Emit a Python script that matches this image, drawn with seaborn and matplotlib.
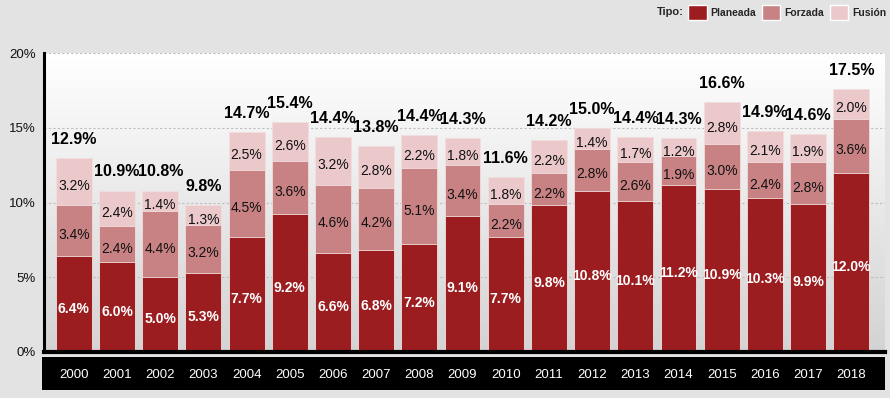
import numpy as np
import matplotlib
matplotlib.use('Agg')
import matplotlib.pyplot as plt
from matplotlib.patches import Patch, Rectangle
import seaborn as sns

# datos (porcentaje por tipo)
years = [str(y) for y in range(2000, 2019)]
planeada = [6.4, 6.0, 5.0, 5.3, 7.7, 9.2, 6.6, 6.8, 7.2, 9.1, 7.7, 9.8, 10.8, 10.1, 11.2, 10.9, 10.3, 9.9, 12.0]
forzada = [3.4, 2.4, 4.4, 3.2, 4.5, 3.6, 4.6, 4.2, 5.1, 3.4, 2.2, 2.2, 2.8, 2.6, 1.9, 3.0, 2.4, 2.8, 3.6]
fusion = [3.2, 2.4, 1.4, 1.3, 2.5, 2.6, 3.2, 2.8, 2.2, 1.8, 1.8, 2.2, 1.4, 1.7, 1.2, 2.8, 2.1, 1.9, 2.0]
totales = [12.9, 10.9, 10.8, 9.8, 14.7, 15.4, 14.4, 13.8, 14.4, 14.3, 11.6, 14.2, 15.0, 14.4, 14.3, 16.6, 14.9, 14.6, 17.5]
yticks = [0, 5, 10, 15, 20]

C_PLA = '#9b1d20'
C_FOR = '#c98284'
C_FUS = '#ebc9cb'
BG = '#e3e3e3'

sns.set_style('white')
plt.rcParams['font.family'] = ['Liberation Sans', 'DejaVu Sans']

fig = plt.figure(figsize=(8.9, 3.98), dpi=100, facecolor=BG)
ax = fig.add_axes([44/890, 46/398, 841/890, 299/398])

# fondo con degradado
grad = np.linspace(1, 0, 256).reshape(-1, 1)
ax.imshow(grad, cmap=matplotlib.colors.LinearSegmentedColormap.from_list('g', ['#d3d3d3', '#ffffff']),
          extent=[-0.69, 18.78, 0, 20], aspect='auto', zorder=0, origin='upper')

cum1 = np.array(planeada)
cum2 = cum1 + np.array(forzada)
cum3 = cum2 + np.array(fusion)

kw = dict(width=0.83, saturation=1, edgecolor='#f2dede', linewidth=0.6, ax=ax, zorder=2)
sns.barplot(x=years, y=cum3, color=C_FUS, **kw)
sns.barplot(x=years, y=cum2, color=C_FOR, **kw)
sns.barplot(x=years, y=cum1, color=C_PLA, **kw)

for i in range(len(years)):
    ax.text(i, planeada[i] / 2 - 0.3, f'{planeada[i]:.1f}%', ha='center', va='center',
            color='white', fontsize=10, fontweight='bold', zorder=3)
    ax.text(i, cum1[i] + forzada[i] / 2 - 0.3, f'{forzada[i]:.1f}%', ha='center', va='center',
            color='#111111', fontsize=10, zorder=3)
    ax.text(i, cum2[i] + fusion[i] / 2 - 0.3, f'{fusion[i]:.1f}%', ha='center', va='center',
            color='#111111', fontsize=10, zorder=3)
    ax.annotate(f'{totales[i]:.1f}%', (i, cum3[i]), xytext=(0, 8), textcoords='offset points',
                ha='center', va='bottom', fontsize=11.5, fontweight='bold', color='black', zorder=3)

ax.set_xlim(-0.69, 18.78)
ax.set_ylim(0, 20)
ax.set_yticks(yticks)
ax.set_yticklabels([f'{t}%' for t in yticks])
ax.set_axisbelow(True)
ax.yaxis.grid(True, linestyle=(0, (2, 2)), color='#bdbdbd', linewidth=0.8, zorder=1)
ax.xaxis.grid(False)
ax.set_xlabel('')
ax.set_ylabel('')

for s in ['top', 'right']:
    ax.spines[s].set_visible(False)
ax.spines['left'].set_color('black')
ax.spines['left'].set_linewidth(2.2)
ax.spines['bottom'].set_color('black')
ax.spines['bottom'].set_linewidth(3)

ax.tick_params(axis='y', length=0, pad=6, labelsize=9.5, labelcolor='#111111')
ax.tick_params(axis='x', length=0, pad=12, labelsize=9.5, labelcolor='white')

# banda negra de los años
fig.patches.append(Rectangle((42/890, 8/398), 843/890, 33/398, transform=fig.transFigure,
                             facecolor='black', edgecolor='none', zorder=-1))

# leyenda
handles = [Patch(facecolor=C_PLA, label='Planeada'),
           Patch(facecolor=C_FOR, label='Forzada'),
           Patch(facecolor=C_FUS, label='Fusión')]
fig.legend(handles=handles, ncol=3, loc='upper right', bbox_to_anchor=(1.002, 1.0), frameon=False,
           prop={'weight': 'bold', 'size': 7.5}, handlelength=1.8, handleheight=1.8,
           handletextpad=0.4, columnspacing=0.5, borderaxespad=0.1)
fig.text(684/890, 1 - 12/398, 'Tipo:', ha='right', va='center', fontsize=8, fontweight='bold')

plt.savefig('out.png', dpi=100, facecolor=BG)
